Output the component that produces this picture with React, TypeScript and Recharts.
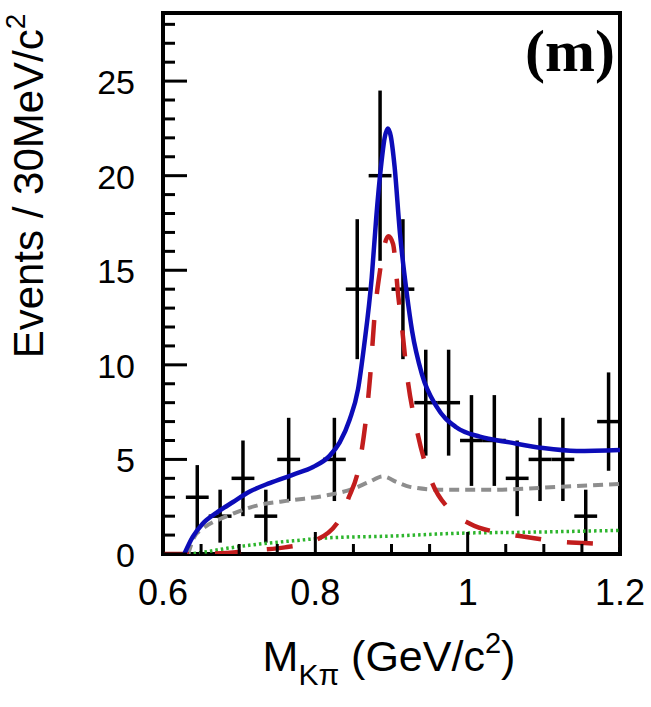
import React from 'react';
import { ComposedChart, Line, Scatter, ErrorBar, XAxis, YAxis } from 'recharts';

// data
const binCenters = [0.645, 0.675, 0.705, 0.735, 0.765, 0.825, 0.855, 0.885, 0.915, 0.945, 0.975, 1.005, 1.035, 1.065, 1.095, 1.125, 1.155, 1.185];
const binCounts = [3, 2, 4, 2, 5, 5, 14, 20, 14, 8, 8, 6, 6, 4, 5, 5, 2, 7];
const binErrors = [1.7, 1.4, 2.0, 1.4, 2.2, 2.2, 3.7, 4.5, 3.7, 2.8, 2.8, 2.4, 2.4, 2.0, 2.2, 2.2, 1.4, 2.6];
const BIN_WIDTH = 0.03;

const totalX = [0.628, 0.639, 0.652, 0.671, 0.692, 0.714, 0.74, 0.771, 0.797, 0.819, 0.832, 0.845, 0.856, 0.864, 0.874, 0.88, 0.886, 0.891, 0.895, 0.899, 0.904, 0.911, 0.92, 0.927, 0.94, 0.959, 0.985, 1.016, 1.055, 1.099, 1.143, 1.2];
const totalY = [0, 0.9, 1.6, 2.2, 2.75, 3.3, 3.75, 4.2, 4.6, 5.2, 5.9, 7.1, 8.7, 11.0, 14.6, 17.8, 20.4, 22.0, 22.5, 22.1, 20.5, 17.0, 13.8, 11.8, 9.5, 7.8, 6.7, 6.2, 5.9, 5.6, 5.45, 5.5];

const signalX = [0.6, 0.63, 0.684, 0.72, 0.76, 0.795, 0.828, 0.843, 0.859, 0.872, 0.878, 0.885, 0.89, 0.896, 0.902, 0.909, 0.914, 0.92, 0.933, 0.953, 0.975, 1.003, 1.046, 1.077, 1.121, 1.154, 1.2];
const signalY = [0, 0, 0.05, 0.2, 0.35, 0.65, 1.6, 2.9, 5.0, 9.4, 12.7, 15.0, 16.2, 16.8, 16.4, 13.6, 11.9, 9.6, 6.6, 3.8, 2.4, 1.6, 1.1, 0.9, 0.65, 0.58, 0.48];

const bkgX = [0.633, 0.641, 0.651, 0.684, 0.727, 0.771, 0.815, 0.85, 0.87, 0.889, 0.907, 0.924, 0.963, 1.033, 1.121, 1.2];
const bkgY = [0, 0.9, 1.3, 2.0, 2.6, 2.85, 3.1, 3.45, 3.8, 4.1, 3.8, 3.55, 3.4, 3.4, 3.55, 3.7];

const flatX = [0.633, 0.645, 0.684, 0.727, 0.771, 0.815, 0.902, 0.99, 1.077, 1.2];
const flatY = [0, 0.05, 0.3, 0.53, 0.7, 0.85, 0.95, 1.1, 1.15, 1.25];

const xTicks = [0.6, 0.65, 0.7, 0.75, 0.8, 0.85, 0.9, 0.95, 1.0, 1.05, 1.1, 1.15, 1.2];
const yTicks = Array.from({ length: 29 }, (_, i) => i);

const W = 651;
const H = 707;
const PLOT = { left: 163, right: 620, top: 13, bottom: 554 };
const Y_MAX = 28.6;
const SANS = '"Liberation Sans", Helvetica, Arial, sans-serif';

const toXY = (xs: number[], ys: number[]) => xs.map((x, i) => ({ x, y: ys[i] }));

const points = binCenters.map((x, i) => ({ x, y: binCounts[i], ey: binErrors[i], ex: BIN_WIDTH / 2 }));
const totalFit = toXY(totalX, totalY);
const signal = toXY(signalX, signalY);
const background = toXY(bkgX, bkgY);
const flatBkg = toXY(flatX, flatY);

const YTick = (props: any) => {
  const { y, payload } = props;
  const v = payload.value;
  const major = v % 5 === 0;
  return (
    <g>
      <line x1={PLOT.left} x2={PLOT.left + (major ? 24 : 12)} y1={y} y2={y} stroke="#000" strokeWidth={3} />
      {major && (
        <text x={PLOT.left - 28} y={y + 1} textAnchor="end" dominantBaseline="central" fontSize={34} fontFamily={SANS} fill="#000">
          {v}
        </text>
      )}
    </g>
  );
};

const XTick = (props: any) => {
  const { x, payload } = props;
  const v = payload.value;
  const major = Math.round(v * 100) % 20 === 0;
  return (
    <g>
      <line x1={x} x2={x} y1={PLOT.bottom} y2={PLOT.bottom - (major ? 22 : 10)} stroke="#000" strokeWidth={3} />
      {major && (
        <text x={x} y={605} textAnchor="middle" fontSize={36} fontFamily={SANS} fill="#000">
          {Number(v.toFixed(1)).toString()}
        </text>
      )}
    </g>
  );
};

export default function App() {
  return (
    <div style={{ position: 'absolute', left: 0, top: 0, width: W, height: H, background: '#fff' }}>
      {/* frame and titles sit underneath the chart so the curves draw over the frame */}
      <svg width={W} height={H} style={{ position: 'absolute', left: 0, top: 0 }}>
        <rect
          x={PLOT.left}
          y={PLOT.top}
          width={PLOT.right - PLOT.left}
          height={PLOT.bottom - PLOT.top}
          fill="none"
          stroke="#000"
          strokeWidth={4}
        />
        <text x={615} y={71} textAnchor="end" fontSize={60} fontWeight="bold" fontFamily='"Liberation Serif", "Times New Roman", serif' fill="#000">
          (m)
        </text>
        <text
          x={43}
          y={186}
          transform="rotate(-90, 43, 186)"
          textAnchor="middle"
          fontSize={42}
          fontFamily={SANS}
          fill="#000"
        >
          Events / 30MeV/c
          <tspan fontSize={28} dy={-18}>2</tspan>
        </text>
        <text x={389} y={671} textAnchor="middle" fontSize={43} fontFamily={SANS} fill="#000">
          M
          <tspan fontSize={30} dy={14}>Kπ</tspan>
          <tspan dy={-14}> (GeV/c</tspan>
          <tspan fontSize={29} dy={-18}>2</tspan>
          <tspan dy={18}>)</tspan>
        </text>
      </svg>
      <div style={{ position: 'absolute', left: 0, top: 0 }}>
        <ComposedChart
          width={W}
          height={H}
          margin={{ top: PLOT.top, right: W - PLOT.right, bottom: H - PLOT.bottom - 60, left: PLOT.left - 60 }}
        >
          <XAxis
            type="number"
            dataKey="x"
            domain={[0.6, 1.2]}
            ticks={xTicks}
            interval={0}
            height={60}
            axisLine={false}
            tickLine={false}
            tick={<XTick />}
            allowDataOverflow
          />
          <YAxis
            type="number"
            dataKey="y"
            domain={[0, Y_MAX]}
            ticks={yTicks}
            interval={0}
            width={60}
            axisLine={false}
            tickLine={false}
            tick={<YTick />}
            allowDataOverflow
          />
          <Scatter data={points} dataKey="y" shape={() => <g />} isAnimationActive={false}>
            <ErrorBar dataKey="ey" direction="y" width={0} stroke="#000" strokeWidth={3.5} />
            <ErrorBar dataKey="ex" direction="x" width={0} stroke="#000" strokeWidth={3.5} />
          </Scatter>
          <Line data={flatBkg} dataKey="y" type="monotone" stroke="#2db52d" strokeWidth={3.5} strokeDasharray="2.5 3" dot={false} isAnimationActive={false} />
          <Line data={background} dataKey="y" type="monotone" stroke="#8e8e8e" strokeWidth={4} strokeDasharray="10 6" dot={false} isAnimationActive={false} />
          <Line data={signal} dataKey="y" type="monotone" stroke="#c21d1d" strokeWidth={4.5} strokeDasharray="26 26" dot={false} isAnimationActive={false} />
          <Line data={totalFit} dataKey="y" type="monotone" stroke="#0c0cb8" strokeWidth={4.5} dot={false} isAnimationActive={false} />
        </ComposedChart>
      </div>
    </div>
  );
}
